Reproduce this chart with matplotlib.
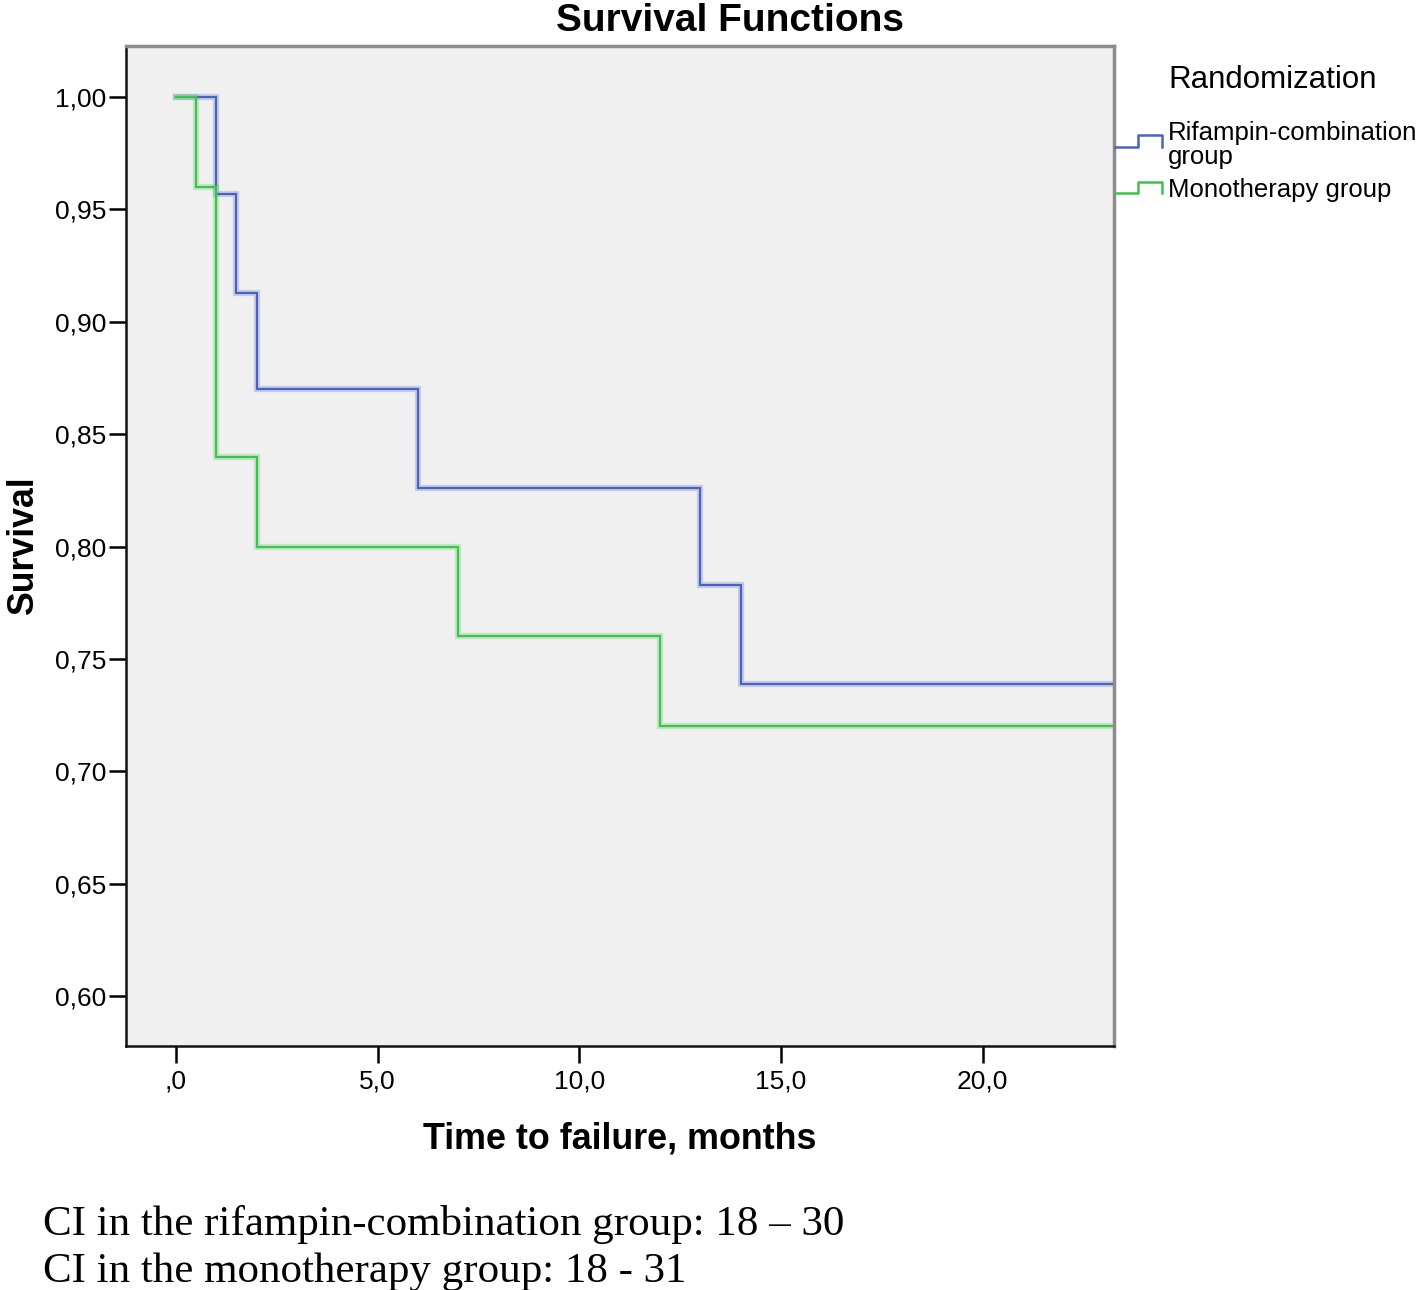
#!/usr/bin/env python3
"""Kaplan-Meier style survival curves, two randomization groups."""
import matplotlib
matplotlib.use("Agg")
import matplotlib.pyplot as plt
from matplotlib.lines import Line2D

# step data (time in months, survival after event)
rif_times = [0.0, 1.0, 1.5, 2.0, 6.0, 13.0, 14.0, 24.0]
rif_surv = [1.0, 0.957, 0.913, 0.870, 0.826, 0.783, 0.739, 0.739]
mono_times = [0.0, 0.5, 1.0, 2.0, 7.0, 12.0, 24.0]
mono_surv = [1.0, 0.96, 0.84, 0.80, 0.76, 0.72, 0.72]

x_ticks = [0, 5, 10, 15, 20]
x_labels = [",0", "5,0", "10,0", "15,0", "20,0"]
y_ticks = [0.60, 0.65, 0.70, 0.75, 0.80, 0.85, 0.90, 0.95, 1.00]
y_labels = ["0,60", "0,65", "0,70", "0,75", "0,80", "0,85", "0,90", "0,95", "1,00"]

group_names = ["Rifampin-combination\ngroup", "Monotherapy group"]
footer = ["CI in the rifampin-combination group: 18 \u2013 30",
          "CI in the monotherapy group: 18 - 31"]

BLUE = "#4a62c4"
GREEN = "#3ec34c"
W, H = 1418, 1290


def fx(px):
    return px / W


def fy(py):
    return 1 - py / H


plt.rcParams["font.family"] = ["Liberation Sans", "DejaVu Sans"]

fig = plt.figure(figsize=(W / 100, H / 100), dpi=100)
ax = fig.add_axes([fx(126), fy(1046), fx(1114) - fx(126), fy(46) - fy(1046)])
ax.set_facecolor("#f0f0f0")

for t, s, c in [(rif_times, rif_surv, BLUE), (mono_times, mono_surv, GREEN)]:
    ax.step(t, s, where="post", color=c, lw=4.5, alpha=0.25, solid_joinstyle="miter")
    ax.step(t, s, where="post", color=c, lw=1.6, solid_joinstyle="miter")

ax.set_xlim(-1.24, 23.26)
ax.set_ylim(0.5778, 1.0227)
ax.set_xticks(x_ticks, x_labels)
ax.set_yticks(y_ticks, y_labels)
ax.tick_params(axis="both", direction="out", length=12, width=1.8, labelsize=19, colors="black")
ax.tick_params(axis="x", pad=5)
ax.tick_params(axis="y", pad=2)

for side in ["left", "bottom"]:
    ax.spines[side].set_color("#111111")
    ax.spines[side].set_linewidth(1.8)
for side in ["top", "right"]:
    ax.spines[side].set_color("#8c8c8c")
    ax.spines[side].set_linewidth(2.5)

ax.set_xlabel("Time to failure, months", fontsize=25.8, fontweight="bold", labelpad=20)
ax.set_ylabel("Survival", fontsize=25.7, fontweight="bold", labelpad=10)

fig.text(fx(730), fy(31), "Survival Functions", fontsize=28, fontweight="bold",
         ha="center", va="baseline")

# legend outside the axes
fig.text(fx(1168), fy(80), "Randomization", fontsize=22.5, ha="left", va="center")
fig.text(fx(1168), fy(145), group_names[0], fontsize=18.5, ha="left", va="center",
         linespacing=0.95)
fig.text(fx(1168), fy(190), group_names[1], fontsize=18.5, ha="left", va="center")
icon_x = [1115, 1138, 1138, 1162, 1162]
for base, top, c in [(147, 135, BLUE), (193, 182, GREEN)]:
    icon_y = [base, base, top, top, base]
    fig.add_artist(Line2D([fx(v) for v in icon_x], [fy(v) for v in icon_y],
                          color=c, lw=1.8, transform=fig.transFigure))

for i, line in enumerate(footer):
    fig.text(fx(43), fy(1235 + 47 * i), line, fontsize=31, family="Liberation Serif",
             ha="left", va="baseline")

fig.savefig("out.png", dpi=100)
